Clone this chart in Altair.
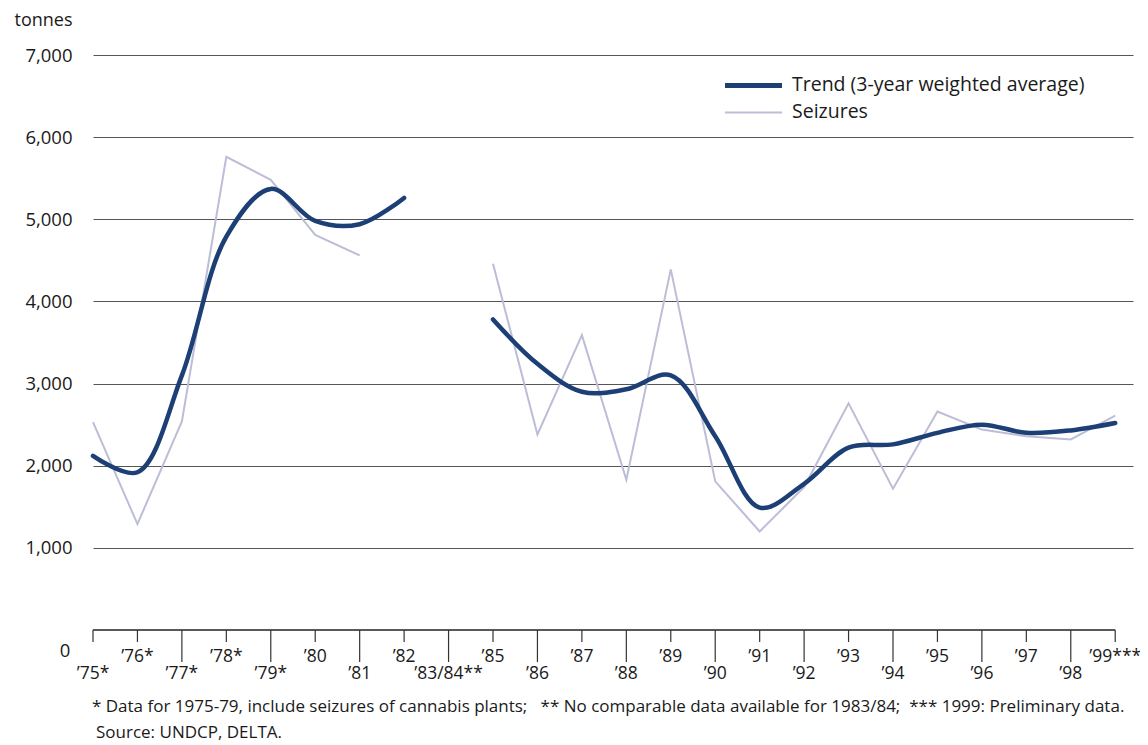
import altair as alt
import pandas as pd

# ---- data ----
year_labels = ["’75*", "’76*", "’77*", "’78*", "’79*", "’80", "’81", "’82", "’83/84**",
               "’85", "’86", "’87", "’88", "’89", "’90", "’91", "’92", "’93", "’94",
               "’95", "’96", "’97", "’98", "’99***"]
seizures = [2530, 1290, 2540, 5760, 5480, 4810, 4560, None, None,
            4460, 2380, 3590, 1830, 4390, 1810, 1200, 1740, 2760, 1720,
            2660, 2440, 2360, 2320, 2610]
trend = [2120, 1920, 3100, 4790, 5370, 4980, 4940, 5260, None,
         3780, 3240, 2900, 2930, 3100, 2360, 1490, 1780, 2220, 2260,
         2400, 2500, 2400, 2430, 2520]
segment = [0, 0, 0, 0, 0, 0, 0, 0, 0,
           1, 1, 1, 1, 1, 1, 1, 1, 1, 1, 1, 1, 1, 1, 1]
y_values = [1000, 2000, 3000, 4000, 5000, 6000, 7000]
legend_labels = ["Trend (3-year weighted average)", "Seizures"]
footnote = ("* Data for 1975-79, include seizures of cannabis plants;\u00a0\u00a0 ** No comparable data "
            "available for 1983/84;\u00a0 *** 1999: Preliminary data.")
source_note = "Source: UNDCP, DELTA."

TREND_C = "#1c3f75"
SEIZ_C = "#bcbdd7"
TEXT_C = "#1a1a1a"
FONT = "Open Sans"

W, H = 1040, 575

df = pd.DataFrame({"i": list(range(len(year_labels))), "label": year_labels,
                   "seizures": seizures, "trend": trend, "segment": segment})

xscale = alt.Scale(domain=[0, 23.40], nice=False, zero=False)
yscale = alt.Scale(domain=[0, 7000], nice=False)

base = alt.Chart(df)

yaxis = alt.Axis(values=y_values, format=",.0f", grid=True, gridColor="#555555", gridWidth=1,
                 domain=False, ticks=False, labelPadding=21, labelFontSize=18.5,
                 labelColor=TEXT_C, labelFont=FONT,
                 title="tonnes", titleAngle=0, titleAlign="right", titleBaseline="middle",
                 titleX=-21, titleY=-35, titleFontSize=18, titleFontWeight="normal",
                 titleFont=FONT, titleColor=TEXT_C)

X = lambda f: alt.X(f, scale=xscale, axis=None)

seiz_line = base.transform_filter("isValid(datum.seizures)").mark_line(
    color=SEIZ_C, strokeWidth=2).encode(
    x=X("i:Q"),
    y=alt.Y("seizures:Q", scale=yscale, axis=yaxis),
    detail="segment:N")

trend_line = base.transform_filter("isValid(datum.trend)").mark_line(
    color=TREND_C, strokeWidth=4.5, interpolate="catmull-rom", strokeCap="round",
    strokeJoin="round").encode(
    x=X("i:Q"),
    y=alt.Y("trend:Q", scale=yscale, axis=yaxis),
    detail="segment:N")

axis_line = base.mark_rule(color="#222222", strokeWidth=1.3).encode(
    x=X("min(i):Q"), x2="max(i):Q", y=alt.Y(datum=0, scale=yscale, axis=yaxis))

ticks_short = base.transform_filter("datum.i % 2 == 1 || datum.i == 0").mark_rule(
    color="#333333", strokeWidth=1.2).encode(
    x=X("i:Q"), y=alt.value(H), y2=alt.value(H + 12))
ticks_long = base.transform_filter("datum.i % 2 == 0 && datum.i > 0").mark_rule(
    color="#333333", strokeWidth=1.2).encode(
    x=X("i:Q"), y=alt.value(H), y2=alt.value(H + 32))

lab_high = base.transform_filter("datum.i % 2 == 1").mark_text(
    fontSize=17.5, font=FONT, color=TEXT_C, baseline="middle", align="center").encode(
    x=X("i:Q"), y=alt.value(H + 27), text="label:N")
lab_low = base.transform_filter("datum.i % 2 == 0").mark_text(
    fontSize=17.5, font=FONT, color=TEXT_C, baseline="middle", align="center").encode(
    x=X("i:Q"), y=alt.value(H + 44), text="label:N")

zero_lab = alt.Chart(pd.DataFrame({"t": ["0"]})).mark_text(
    fontSize=18.5, font=FONT, color=TEXT_C, baseline="middle", align="center").encode(
    x=alt.value(-28), y=alt.value(H + 21), text="t:N")

notes = alt.Chart(pd.DataFrame({"t": [footnote]})).mark_text(
    fontSize=17, font=FONT, color=TEXT_C, baseline="middle", align="left").encode(
    x=alt.value(-1), y=alt.value(H + 77), text="t:N")
src = alt.Chart(pd.DataFrame({"t": [source_note]})).mark_text(
    fontSize=17, font=FONT, color=TEXT_C, baseline="middle", align="left").encode(
    x=alt.value(3), y=alt.value(H + 103), text="t:N")

leg_df = pd.DataFrame({"t": legend_labels})
leg_trend_sym = alt.Chart(leg_df.iloc[[0]]).mark_rule(color=TREND_C, strokeWidth=5).encode(
    x=alt.value(632), x2=alt.value(689), y=alt.value(30.5))
leg_seiz_sym = alt.Chart(leg_df.iloc[[1]]).mark_rule(color=SEIZ_C, strokeWidth=2).encode(
    x=alt.value(632), x2=alt.value(689), y=alt.value(57.5))
leg_trend_txt = alt.Chart(leg_df.iloc[[0]]).mark_text(
    fontSize=19.5, font=FONT, color=TEXT_C, baseline="middle", align="left").encode(
    x=alt.value(699), y=alt.value(30), text="t:N")
leg_seiz_txt = alt.Chart(leg_df.iloc[[1]]).mark_text(
    fontSize=19.5, font=FONT, color=TEXT_C, baseline="middle", align="left").encode(
    x=alt.value(699), y=alt.value(57), text="t:N")

chart = alt.layer(
    seiz_line, trend_line, axis_line, ticks_short, ticks_long, lab_high, lab_low,
    zero_lab, notes, src, leg_trend_sym, leg_seiz_sym, leg_trend_txt, leg_seiz_txt
).properties(
    width=W, height=H,
    padding={"left": 85, "top": 47, "right": 7, "bottom": 115},
    autosize=alt.AutoSizeParams(type="none"),
    background="white"
).configure_view(stroke=None)

chart.save("out.html", embed_options={"renderer": "svg", "actions": False})
